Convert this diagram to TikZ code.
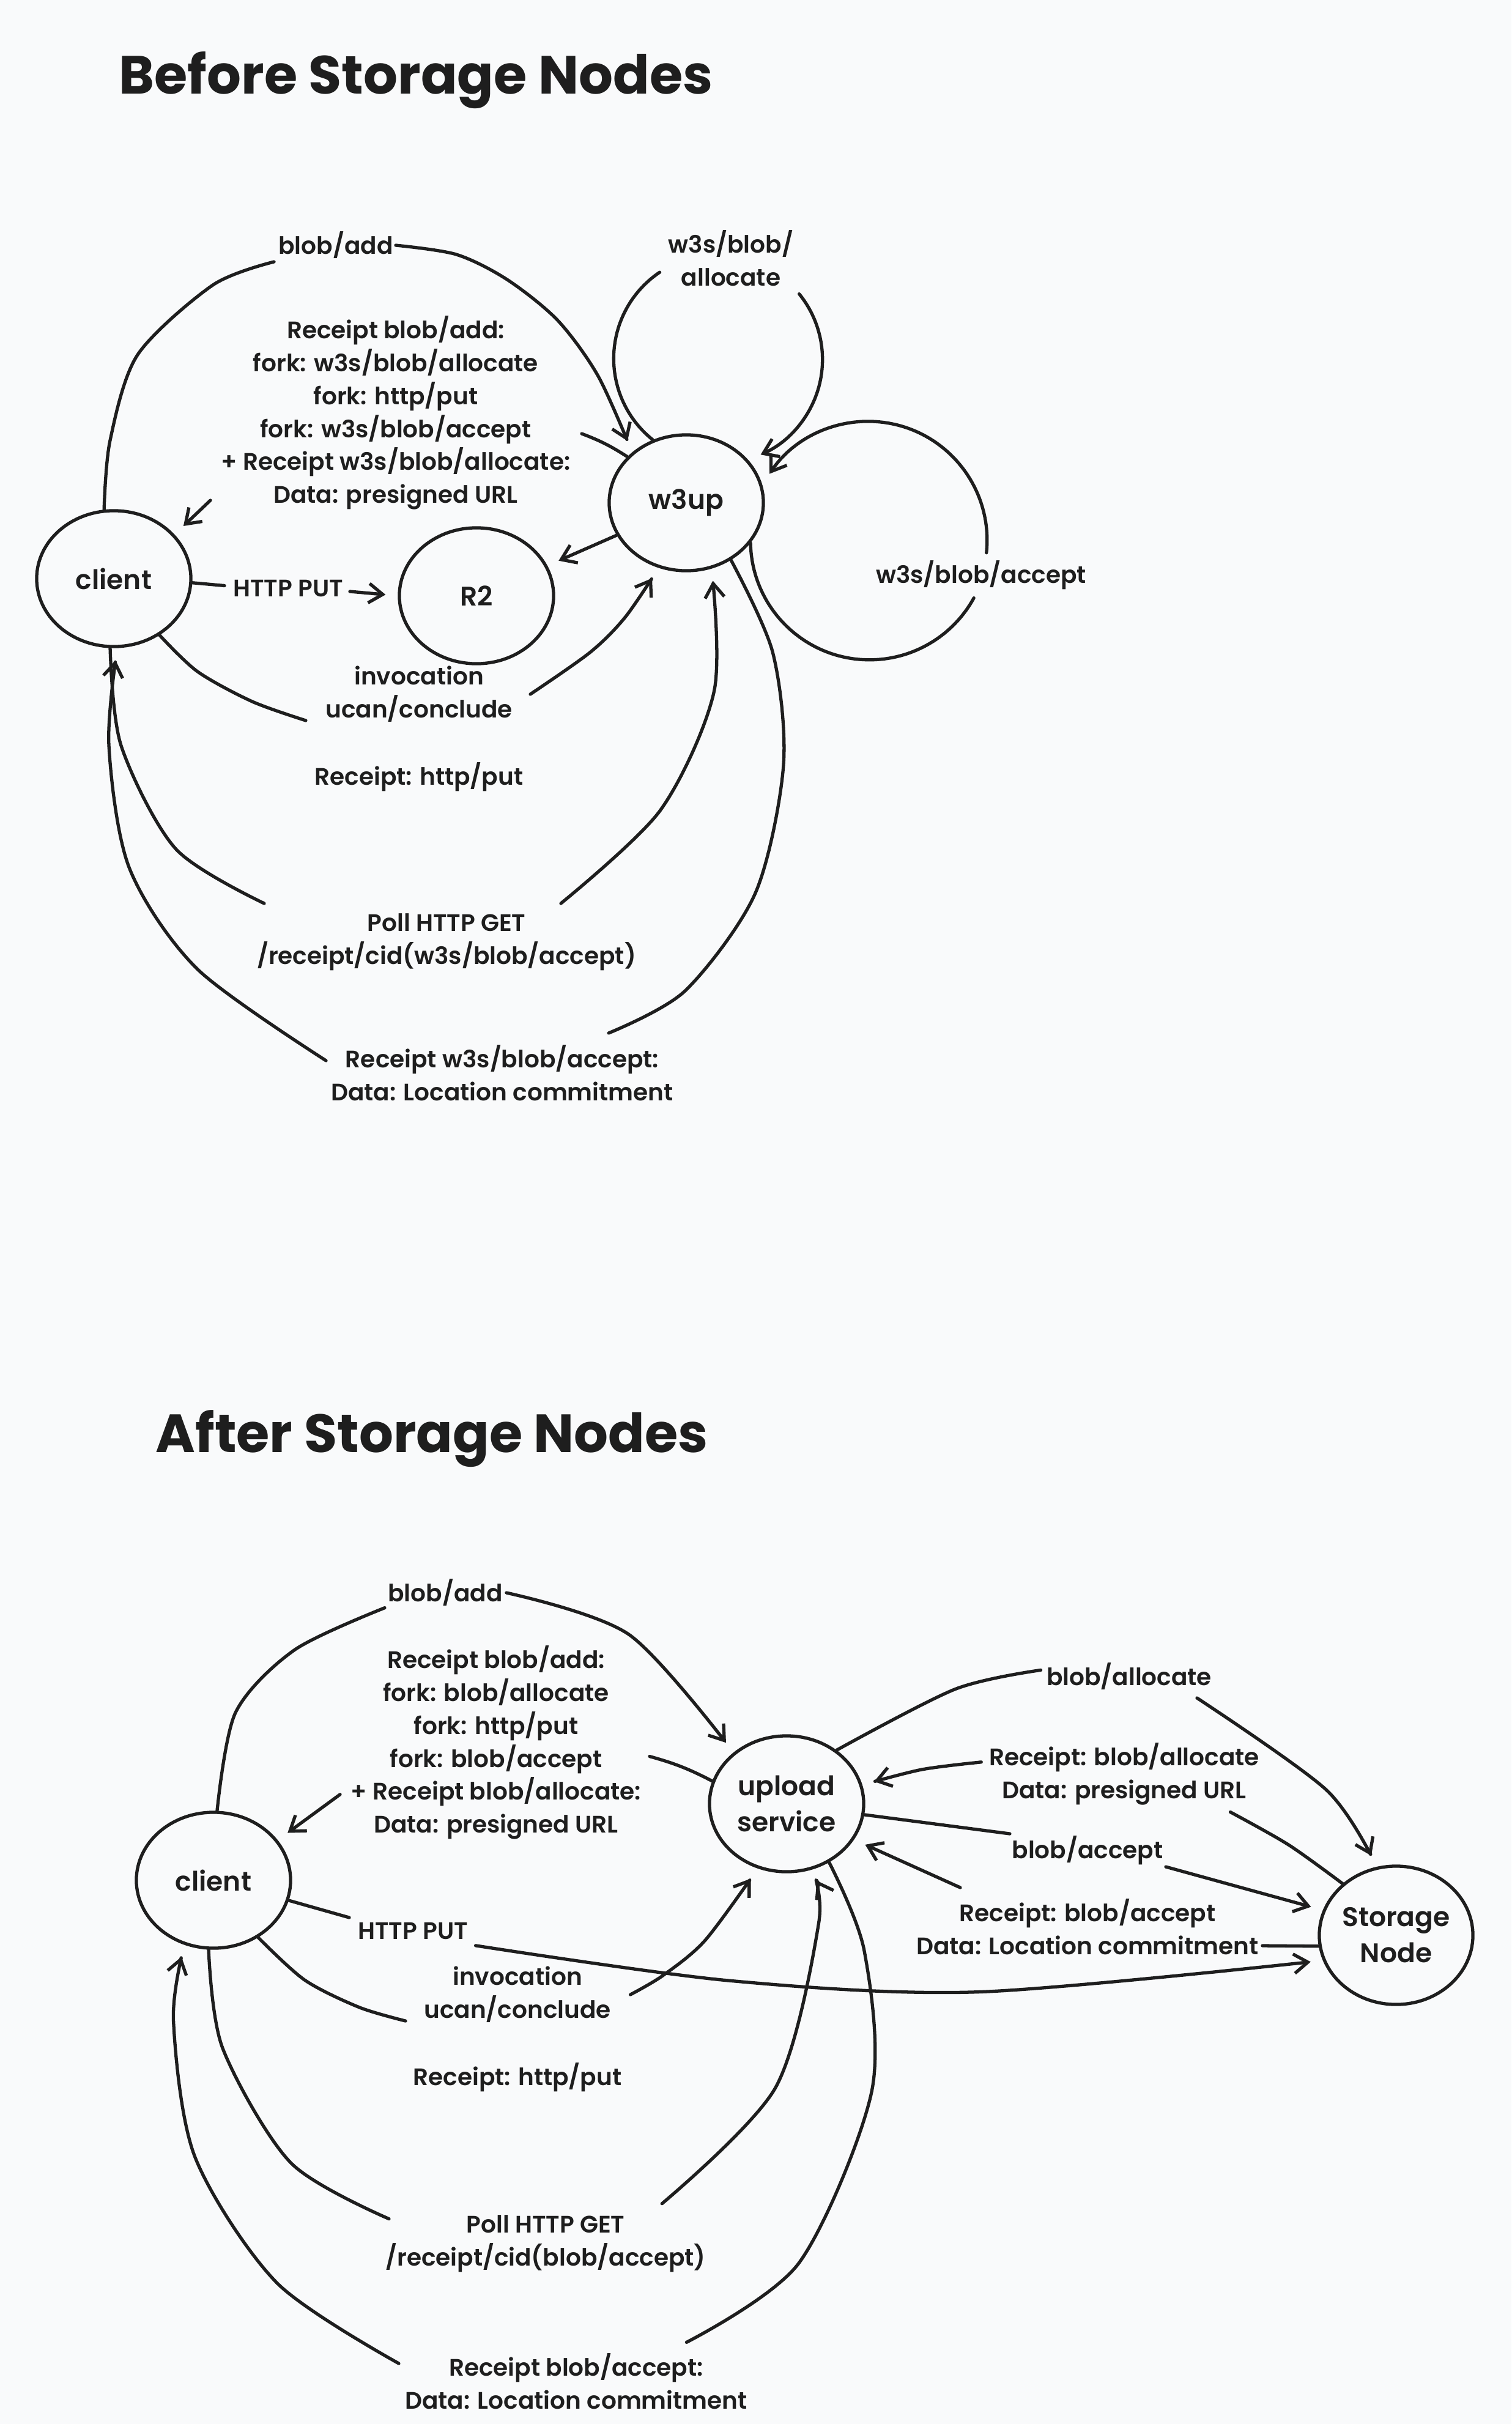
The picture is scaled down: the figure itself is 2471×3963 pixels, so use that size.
\documentclass[tikz,border=0pt]{standalone}
\usepackage{fontspec}
\setmainfont{Poppins}
\newfontfamily\lblfam{Poppins}[UprightFont={* SemiBold}]
\usetikzlibrary{shapes.geometric,arrows.meta}
\definecolor{bg}{RGB}{249,250,251}
\definecolor{ink}{RGB}{30,30,30}
\newcommand\lblfnt{\lblfam\fontsize{11.1pt}{15.3pt}\selectfont}
\newcommand\ndfnt{\lblfam\fontsize{12.5pt}{16.8pt}\selectfont}
\newcommand\ttlfnt{\fontsize{25pt}{30pt}\selectfont\bfseries}
\begin{document}
\begin{tikzpicture}[x=0.01cm,y=-0.01cm,
  ell/.style={ellipse,draw=ink,line width=1.5pt,minimum width=2.52cm,minimum height=2.22cm,inner sep=0pt,font=\ndfnt,text=ink,align=center},
  lbl/.style={font=\lblfnt,text=ink,align=center,inner sep=0pt},
  ttl/.style={font=\ttlfnt,text=ink,anchor=base west,inner sep=0pt},
  con/.style={draw=ink,line width=1.5pt,line cap=round,line join=round},
  arrn/.style={con,-{Straight Barb[length=6.5pt,width=9pt]}},
  arr/.style={arrn,shorten >=0.2cm},
  sm/.style={smooth,tension=0.5}]

\path[fill=bg,use as bounding box] (0,0) rectangle (2471,3963);

% ================= TOP =================
\node[ttl] (t1) at (194,153) {Before Storage Nodes};
\node[ell] (client1) at (186,946) {client};
\node[ell] (r2) at (779,974) {R2};
\node[ell] (w3up) at (1122,822) {w3up};

% blob/add
\node[lbl] (l1) at (549,401) {blob/add};
\coordinate (t1a) at (448,428);
\coordinate (t1b) at (647,401);
\draw[con] plot[sm] coordinates {(client1.98) (180,720) (225,580) (348,466) (t1a)};
\draw[arr] plot[sm] coordinates {(t1b) (746,416) (829,457) (912,524) (978,615) (w3up.137)};

% w3s/blob/allocate loop
\coordinate (lc1) at (1174.7,587.8);
\node[lbl] (l2) at (1195,422) {w3s/blob/\\allocate};
\draw[con] (w3up.118) arc[start angle=128.6,end angle=236.1,radius=170];
\draw[arrn] ([shift={(320.9:170)}]lc1) arc[start angle=320.9,end angle=426.1,radius=170];

% w3s/blob/accept loop
\coordinate (lc2) at (1419.3,883.4);
\draw[con] (w3up.-32) arc[start angle=-181,end angle=-331.3,radius=194.5];
\draw[arrn] ([shift={(-354:194.5)}]lc2) arc[start angle=-354,end angle=-506,radius=194.5];
\node[lbl] (l3) at (1604,940) {w3s/blob/accept};

% Receipt blob/add
\node[lbl] (l4) at (647,675) {Receipt blob/add:\\fork: w3s/blob/allocate\\fork: http/put\\fork: w3s/blob/accept\\+ Receipt w3s/blob/allocate:\\Data: presigned URL};
\coordinate (t4a) at (951,709);
\coordinate (t4b) at (344,818);
\draw[con] (w3up.142) to[bend right=6] (t4a);
\draw[arr] (t4b) -- (client1.36);

% HTTP PUT
\node[lbl] (l5) at (471,962) {HTTP PUT};
\coordinate (t5a) at (367,957.5);
\coordinate (t5b) at (572,967);
\draw[con] (client1.-3) -- (t5a);
\draw[arr] (t5b) -- (r2.180);

% w3up -> R2
\draw[arr] (w3up.205) -- (r2.23);

% invocation ucan/conclude
\node[lbl] (l7) at (685,1135) {invocation\\ucan/conclude};
\coordinate (t7a) at (500,1178);
\coordinate (t7b) at (867,1135);
\draw[con] plot[sm] coordinates {(client1.-51) (323,1098) (412.5,1147) (t7a)};
\draw[arr] plot[sm] coordinates {(t7b) (964.8,1066.5) (1022.2,1009) (w3up.247)};

\node[lbl] (l8) at (685,1270) {Receipt: http/put};

% Poll
\node[lbl] (l9) at (730,1540) {Poll HTTP GET\\/receipt/cid(w3s/blob/accept)};
\coordinate (t9a) at (432,1477);
\coordinate (t9b) at (917,1477);
\draw[con] plot[sm] coordinates {(client1.267) (198,1219) (287.5,1388) (t9a)};
\draw[arr] plot[sm] coordinates {(t9b) (1079.6,1324.7) (1167.6,1129.6) (w3up.291)};

% Receipt w3s/blob/accept
\node[lbl] (l10) at (821,1754) {Receipt w3s/blob/accept:\\Data: Location commitment};
\coordinate (t10a) at (995,1689);
\coordinate (t10b) at (533,1734);
\draw[con] plot[sm] coordinates {(w3up.308) (1263.3,1066.5) (1281,1250) (1235,1460) (1120,1620) (t10a)};
\draw[arr] plot[sm] coordinates {(t10b) (323,1584.6) (211.6,1419.5) (178,1218.6) (client1.273)};

% ================= BOTTOM =================
\node[ttl] (t2) at (254,2374) {After Storage Nodes};
\node[ell] (client2) at (349,3074) {client};
\node[ell] (upl) at (1286,2949) {upload\\service};
\node[ell,minimum width=2.51cm,minimum height=2.26cm] (stn) at (2282.5,3164) {Storage\\Node};

% blob/add
\node[lbl] (m1) at (728,2604) {blob/add};
\coordinate (b1a) at (629,2628.6);
\coordinate (b1b) at (828,2604);
\draw[con] plot[sm] coordinates {(client2.87) (385,2800) (481.6,2697.4) (b1a)};
\draw[arr] plot[sm] coordinates {(b1b) (1028.8,2672.6) (upl.136)};

% Receipt blob/add
\node[lbl] (m2) at (811,2849) {Receipt blob/add:\\fork: blob/allocate\\fork: http/put\\fork: blob/accept\\+ Receipt blob/allocate:\\Data: presigned URL};
\coordinate (b2a) at (1062,2871.5);
\coordinate (b2b) at (556,2933.7);
\draw[con] (upl.163) to[bend right=6] (b2a);
\draw[arr] (b2b) -- (client2.32);

% HTTP PUT
\node[lbl] (m3) at (675,3157) {HTTP PUT};
\coordinate (b3a) at (571,3135);
\coordinate (b3b) at (777.6,3180.8);
\draw[con] (client2.-15) -- (b3a);
\draw[arr] plot[sm] coordinates {(b3b) (1191,3238) (1600,3256.6) (stn.199)};

% invocation
\node[lbl] (m4) at (846,3261) {invocation\\ucan/conclude};
\coordinate (b4a) at (663,3304);
\coordinate (b4b) at (1030.6,3261);
\draw[con] plot[sm] coordinates {(client2.-52) (498,3237) (587,3281.6) (b4a)};
\draw[arr] plot[sm] coordinates {(b4b) (1084,3229.6) (1153,3172) (upl.246)};

\node[lbl] (m5) at (846,3396) {Receipt: http/put};

% Poll
\node[lbl] (m6) at (892,3668) {Poll HTTP GET\\/receipt/cid(blob/accept)};
\coordinate (b6a) at (636,3627.6);
\coordinate (b6b) at (1082.3,3602.7);
\draw[con] plot[sm] coordinates {(client2.266) (364,3348.6) (475.5,3536) (b6a)};
\draw[arr] plot[sm] coordinates {(b6b) (1267.9,3413) (1338.6,3143.5) (upl.290)};

% Receipt blob/accept
\node[lbl] (m7) at (942,3893) {Receipt blob/accept:\\Data: Location commitment};
\coordinate (b7a) at (1122.4,3829.4);
\coordinate (b7b) at (652,3864);
\draw[con] plot[sm] coordinates {(upl.-54) (1413,3189.4) (1425,3420) (1306,3700) (b7a)};
\draw[arr] plot[sm] coordinates {(b7b) (453,3732.5) (319,3527) (283.6,3304) (client2.246)};

% blob/allocate
\node[lbl] (m8) at (1846,2741) {blob/allocate};
\coordinate (b8a) at (1701.6,2730.4);
\coordinate (b8b) at (1957,2776);
\draw[con] plot[sm] coordinates {(upl.47) (1561.5,2761.6) (b8a)};
\draw[arr] plot[sm] coordinates {(b8b) (2169,2926.8) (stn.106)};

% Receipt: blob/allocate
\node[lbl] (m9) at (1838,2900) {Receipt: blob/allocate\\Data: presigned URL};
\coordinate (b9a) at (2011.5,2962.5);
\coordinate (b9b) at (1604.3,2880.8);
\draw[con] plot[sm] coordinates {(stn.136) (2106.6,3016) (b9a)};
\draw[arr] plot[sm] coordinates {(b9b) (1507,2893) (upl.14)};

% blob/accept
\node[lbl] (m10) at (1778,3025) {blob/accept};
\coordinate (b10a) at (1651,2998);
\coordinate (b10b) at (1906,3052);
\draw[con] (upl.-8) -- (b10a);
\draw[arr] (b10b) -- (stn.161);

% Receipt: blob/accept
\node[lbl] (m11) at (1778,3150) {Receipt: blob/accept\\Data: Location commitment};
\coordinate (b11a) at (2064,3181);
\coordinate (b11b) at (1570,3086);
\draw[con] (stn.188) -- (b11a);
\draw[arr] (b11b) -- (upl.-28);

\end{tikzpicture}
\end{document}
